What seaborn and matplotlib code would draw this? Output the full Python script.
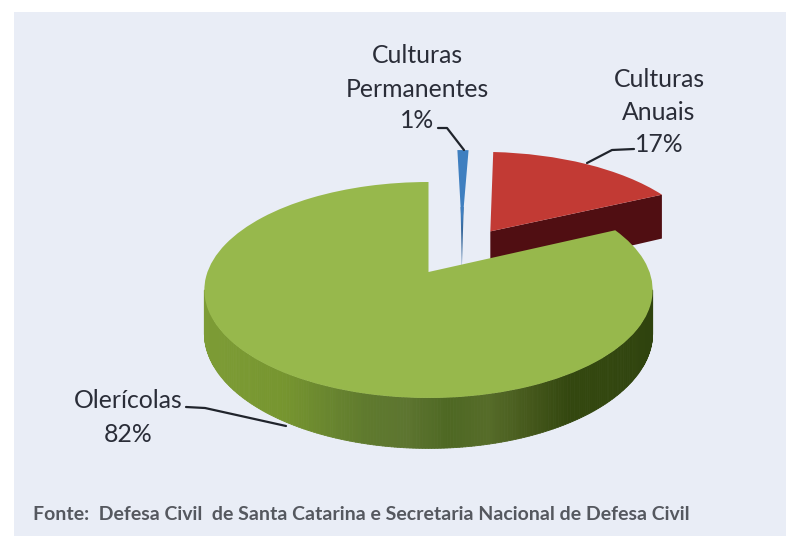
import numpy as np
import matplotlib
matplotlib.use("Agg")
import matplotlib.pyplot as plt
from matplotlib.collections import PolyCollection
from matplotlib.patches import Rectangle, Polygon
from matplotlib.transforms import Transform
import seaborn as sns

# Shares of affected crop area
categories = ["Olerícolas", "Culturas\nAnuais", "Culturas\nPermanentes"]
shares = [82, 17, 1]
percent_labels = ["82%", "17%", "1%"]
source_note = "Fonte:  Defesa Civil  de Santa Catarina e Secretaria Nacional de Defesa Civil"

top_colors = ["#97b84c", "#c23a34", "#3f7fc0"]
green_wall_shades = ["#7d9c36", "#7a9932", "#76952f", "#6a872f", "#5f7a2e", "#5d7530", "#4e6823",
                     "#566c29", "#46591c", "#33470f", "#33470f", "#2f430e"]
red_wall_color = "#500e12"
blue_wall_color = "#38699c"
panel_color = "#e9edf6"
text_color = "#2a2d38"

# Tilted-disc projection: unit pie coordinates to pixel coordinates
ORIGIN_X, ORIGIN_Y = 428.5, 272.0
SCALE_X, SCALE_Y, TILT = 221.0, 105.0, 1.0 / 6.0
DEPTH = 42.0
RED_DEPTH = 50.0


def project(x, y, z=0.0):
    w = 1.0 + TILT * y
    return ORIGIN_X + SCALE_X * x / w, ORIGIN_Y - (SCALE_Y * y - z) / w


class TiltedDisc(Transform):
    input_dims = output_dims = 2
    is_affine = False

    def transform_non_affine(self, values):
        values = np.asarray(values, dtype=float)
        px, py = project(values[:, 0], values[:, 1])
        return np.column_stack([px, py])


sns.set_theme(style="white")
plt.rcParams["font.family"] = ["Lato", "DejaVu Sans"]

fig = plt.figure(figsize=(7.86, 5.36), dpi=100, facecolor="white")
ax = fig.add_axes([0, 0, 1, 1])

# Wedges come from the shares; the first one runs counter-clockwise from twelve o'clock
wedges, _ = ax.pie(shares, colors=top_colors, startangle=90, counterclock=True,
                   explode=[0.0, 0.5, 0.0], wedgeprops={"linewidth": 0})
ax.set_aspect("auto")
ax.set_xlim(0, 786)
ax.set_ylim(536, 0)
ax.axis("off")

ax.add_patch(Rectangle((14, 12), 786, 536, facecolor=panel_color, edgecolor="none", zorder=0))

# Both detached slices sit a little further right
red_x, red_y = wedges[1].center
wedges[1].set_center((red_x + 0.018, red_y))
wedges[2].set_center((0.162, 0.44))

tilted = TiltedDisc() + ax.transData
for wedge in wedges:
    wedge.set_transform(tilted)
wedges[0].set_zorder(7)
wedges[1].set_zorder(4)
wedges[2].set_zorder(3)

# Cut face of the red slice
red = wedges[1]
rcx, rcy = red.center
tip_x = rcx + np.cos(np.radians(red.theta1))
tip_y = rcy + np.sin(np.radians(red.theta1))
red_face = [project(rcx, rcy), project(tip_x, tip_y),
            project(tip_x, tip_y, RED_DEPTH), project(rcx, rcy, RED_DEPTH)]
ax.add_patch(Polygon(red_face, facecolor=red_wall_color, edgecolor="none", zorder=2))

# Lower tip of the blue slice tapers down to the base of the disc
blue = wedges[2]
bcx, bcy = blue.center
near = 0.25
blue_face = [
    project(bcx + near * np.cos(np.radians(blue.theta1)), bcy + near * np.sin(np.radians(blue.theta1))),
    project(bcx + near * np.cos(np.radians(blue.theta2)), bcy + near * np.sin(np.radians(blue.theta2))),
    project(bcx, bcy, DEPTH),
]
ax.add_patch(Polygon(blue_face, facecolor=blue_wall_color, edgecolor="none", zorder=2))

# Rim of the green slice between its two silhouette points, shaded across its width in narrow strips
silhouette = np.degrees(np.arcsin(TILT))
angles = np.radians(np.linspace(180 + silhouette, 360 - silhouette, 241))
shade = sns.blend_palette(green_wall_shades, n_colors=240)
rim_x, rim_y = np.cos(angles), np.sin(angles)
strips, strip_colors = [], []
for i in range(len(angles) - 1):
    a = project(rim_x[i], rim_y[i])
    b = project(rim_x[i + 1], rim_y[i + 1])
    c = project(rim_x[i + 1], rim_y[i + 1], DEPTH)
    d = project(rim_x[i], rim_y[i], DEPTH)
    strips.append([a, b, c, d])
    u = (0.5 * (a[0] + b[0]) - 203.0) / 449.0
    strip_colors.append(shade[int(np.clip(u, 0, 0.999) * 240)])
ax.add_collection(PolyCollection(strips, facecolors=strip_colors, edgecolors=strip_colors,
                                 linewidths=0.6, zorder=6))

# Slice labels and their leader lines
label_kw = dict(ha="center", va="center", fontsize=17.8, color=text_color, linespacing=1.55, zorder=9)
ax.text(417, 72.5, categories[2], **label_kw)
ax.text(417, 121, percent_labels[2], **label_kw)
ax.text(659, 96, categories[1], **label_kw)
ax.text(659, 144.5, percent_labels[1], **label_kw)
ax.text(128, 401, categories[0], **label_kw)
ax.text(128, 434, percent_labels[0], **label_kw)

leader_kw = dict(color="#20242c", linewidth=1.6, zorder=8, solid_capstyle="round")
ax.plot([438, 447, 464], [128, 128, 150], **leader_kw)
ax.plot([634, 612, 587], [149, 150, 163], **leader_kw)
ax.plot([186, 205, 286], [407, 408, 426], **leader_kw)

ax.text(33, 515, source_note, ha="left", va="center", fontsize=14.0, color="#55585f",
        fontweight="bold", zorder=9)

sns.despine(ax=ax, left=True, bottom=True)
fig.savefig("out.png", dpi=100, facecolor="white")
